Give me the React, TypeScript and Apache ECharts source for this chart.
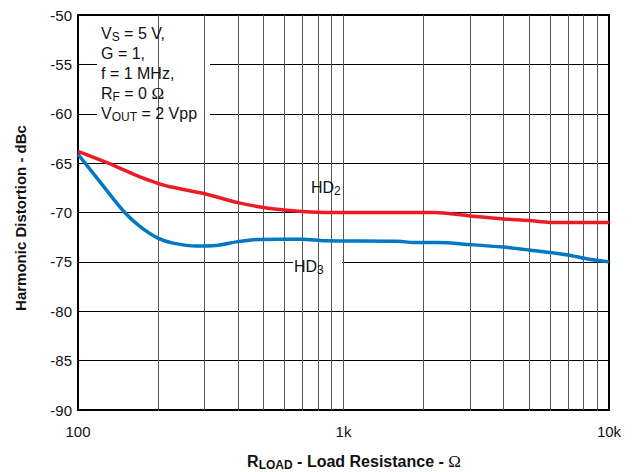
import React, { useEffect, useRef } from 'react';
import * as echarts from 'echarts';

// ---- data ----
const hd2R = [100, 130, 171, 200, 222, 300, 400, 500, 575, 700, 900, 1200, 1600, 2200, 3000, 4000, 5000, 6000, 8000, 10000];
const hd2V = [-63.8, -65.0, -66.4, -67.05, -67.4, -68.1, -69.0, -69.5, -69.7, -69.9, -70.0, -70.0, -70.0, -70.0, -70.35, -70.65, -70.8, -71.0, -71.0, -71.0];
const hd3R = [100, 121, 150, 171, 200, 228, 280, 330, 400, 460, 575, 700, 850, 1600, 1840, 2250, 3000, 4000, 5000, 7000, 8300, 10000];
const hd3V = [-64.1, -66.9, -70.0, -71.4, -72.6, -73.1, -73.4, -73.35, -72.95, -72.75, -72.7, -72.7, -72.85, -72.9, -73.05, -73.05, -73.25, -73.5, -73.8, -74.3, -74.7, -75.0];
const xGridR = [200, 300, 400, 500, 600, 700, 800, 900, 1000, 2000, 3000, 4000, 5000, 6000, 7000, 8000, 9000];
const xTickLabels: Record<number, string> = { 100: '100', 1000: '1k', 10000: '10k' };
const yMin = -90;
const yMax = -50;
const yStep = 5;
const notes = [
  '{m|V}{s|S}{m| = 5 V,}',
  '{m|G = 1,}',
  '{m|f = 1 MHz,}',
  '{m|R}{s|F}{m| = 0 }{o|Ω}',
  '{m|V}{s|OUT}{m| = 2 Vpp}',
];

const FONT = 'Arial, "Liberation Sans", Helvetica, sans-serif';
const SERIF = '"Liberation Serif", "DejaVu Serif", serif';
const RED = '#ED1C24';
const BLUE = '#0078C4';
const INK = '#111';

export default function App() {
  const ref = useRef<HTMLDivElement>(null);
  useEffect(() => {
    const chart = echarts.init(ref.current!, null, { renderer: 'svg' });
    const richN = {
      m: { fontSize: 16, fontFamily: FONT, fill: INK, color: INK, lineHeight: 20 },
      s: { fontSize: 12, fontFamily: FONT, fill: INK, color: INK, verticalAlign: 'bottom', lineHeight: 11 },
      o: { fontSize: 17, fontFamily: SERIF, fill: INK, color: INK, lineHeight: 20 },
    };
    const richB = {
      b: { fontSize: 16, fontWeight: 'bold', fontFamily: FONT, fill: INK, color: INK, lineHeight: 20 },
      bs: { fontSize: 12, fontWeight: 'bold', fontFamily: FONT, fill: INK, color: INK, verticalAlign: 'bottom', lineHeight: 11 },
      o: { fontSize: 17, fontFamily: SERIF, fill: INK, color: INK, lineHeight: 20 },
    };
    const graphic: any[] = [
      { type: 'rect', z: 3, shape: { x: 97, y: 23, width: 113, height: 119 }, style: { fill: '#fff' } },
      { type: 'rect', z: 3, shape: { x: 304, y: 176, width: 44, height: 31 }, style: { fill: '#fff' } },
      { type: 'rect', z: 3, shape: { x: 293, y: 251, width: 49, height: 36 }, style: { fill: '#fff' } },
      ...notes.map((t, i) => ({
        type: 'text', z: 6, x: 101, y: 33 + i * 20,
        style: { text: t, rich: richN, verticalAlign: 'middle', align: 'left' },
      })),
      { type: 'text', z: 6, x: 311, y: 187, style: { text: '{m|HD}{s|2}', rich: richN, verticalAlign: 'middle' } },
      { type: 'text', z: 6, x: 294, y: 266, style: { text: '{m|HD}{s|3}', rich: richN, verticalAlign: 'middle' } },
      { type: 'text', z: 6, x: 354, y: 461, style: { text: '{b|R}{bs|LOAD}{b| - Load Resistance - }{o|Ω}', rich: richB, align: 'center', verticalAlign: 'middle' } },
      { type: 'text', z: 6, x: 20, y: 218, rotation: Math.PI / 2, style: { text: 'Harmonic Distortion - dBc', font: 'bold 15px ' + FONT, fill: INK, align: 'center', verticalAlign: 'middle' } },
    ];
    chart.setOption({
      animation: false,
      grid: { left: 78, right: 25, top: 15, bottom: 62, show: true, borderColor: '#000', borderWidth: 2, backgroundColor: 'transparent' },
      xAxis: {
        type: 'log', logBase: 10, min: 100, max: 10000,
        axisLine: { show: true, lineStyle: { color: '#000', width: 2 } },
        axisTick: { show: false },
        splitLine: { show: false },
        axisLabel: { color: INK, fontSize: 15, fontFamily: FONT, margin: 14, formatter: (v: number) => xTickLabels[Math.round(v)] ?? '' },
      },
      yAxis: {
        type: 'value', min: yMin, max: yMax, interval: yStep,
        axisLine: { show: true, lineStyle: { color: '#000', width: 2 } },
        axisTick: { show: false },
        splitLine: { show: true, lineStyle: { color: '#000', width: 1 } },
        axisLabel: { color: INK, fontSize: 15, fontFamily: FONT, margin: 6 },
      },
      graphic,
      series: [
        {
          type: 'line', name: 'grid', data: [], z: 2, silent: true,
          markLine: {
            silent: true, symbol: ['none', 'none'], label: { show: false },
            lineStyle: { color: '#555', width: 1, type: 'solid' },
            emphasis: { disabled: true },
            data: xGridR.map((v) => ({ xAxis: v })),
          },
        },
        {
          type: 'line', name: 'HD2', z: 5, showSymbol: false, smooth: 0.3,
          lineStyle: { color: RED, width: 3.5 }, itemStyle: { color: RED },
          data: hd2R.map((r, i) => [r, hd2V[i]]),
        },
        {
          type: 'line', name: 'HD3', z: 5, showSymbol: false, smooth: 0.3,
          lineStyle: { color: BLUE, width: 3.5 }, itemStyle: { color: BLUE },
          data: hd3R.map((r, i) => [r, hd3V[i]]),
        },
      ],
    });
    return () => chart.dispose();
  }, []);
  return <div ref={ref} style={{ position: 'fixed', left: 0, top: 0, width: 634, height: 472, background: '#fff' }} />;
}
